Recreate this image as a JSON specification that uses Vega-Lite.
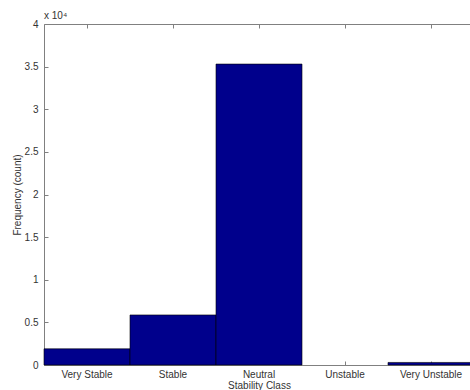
{
  "$schema": "https://vega.github.io/schema/vega-lite/v6.json",
  "autosize": "none",
  "width": 430,
  "height": 341,
  "padding": {"left": 44, "top": 24, "right": 0, "bottom": 25},
  "background": "white",
  "config": {
    "font": "Liberation Sans",
    "view": {"stroke": null},
    "axis": {"domainColor": "#808080", "tickColor": "#808080", "labelColor": "#333333", "titleColor": "#333333", "labelFont": "Liberation Sans", "titleFont": "Liberation Sans", "labelFontSize": 10, "titleFontSize": 10, "titleFontWeight": "normal", "grid": false, "domainWidth": 1, "tickWidth": 1}
  },
  "title": {"text": "x 10⁴", "anchor": "start", "frame": "group", "fontSize": 10, "fontWeight": "normal", "color": "#333333", "offset": -2, "font": "Liberation Sans"},
  "data": {
    "values": [
      {"cls": "Very Stable", "count": 1900},
      {"cls": "Stable", "count": 5870},
      {"cls": "Neutral", "count": 35300},
      {"cls": "Unstable", "count": 0},
      {"cls": "Very Unstable", "count": 300}
    ]
  },
  "layer": [
    {
      "mark": {"type": "bar", "color": "#00008C", "stroke": "#000000", "strokeWidth": 0.6},
      "encoding": {
        "x": {"field": "cls", "type": "nominal", "sort": null,
          "scale": {"paddingInner": 0, "paddingOuter": 0},
          "axis": {"title": "Stability Class", "labelAngle": 0, "tickSize": -4, "labelPadding": 8, "titlePadding": 1}},
        "y": {"field": "count", "type": "quantitative",
          "scale": {"domain": [0, 40000], "nice": false},
          "axis": {"title": "Frequency (count)", "values": [0, 5000, 10000, 15000, 20000, 25000, 30000, 35000, 40000], "labelExpr": "format(datum.value/10000, '~g')", "tickSize": -4, "labelPadding": 10, "titlePadding": 2}},
        "strokeOpacity": {"condition": {"test": "datum.count == 0", "value": 0}, "value": 1}
      }
    },
    {
      "mark": {"type": "rule", "opacity": 0},
      "encoding": {
        "x": {"field": "cls", "type": "nominal", "sort": null,
          "axis": {"orient": "top", "title": null, "labels": false, "tickSize": -4}},
        "y": {"field": "count", "type": "quantitative",
          "axis": {"orient": "right", "title": null, "labels": false, "tickSize": -4, "values": [0, 5000, 10000, 15000, 20000, 25000, 30000, 35000, 40000]}}
      }
    }
  ],
  "resolve": {"axis": {"x": "independent", "y": "independent"}}
}
